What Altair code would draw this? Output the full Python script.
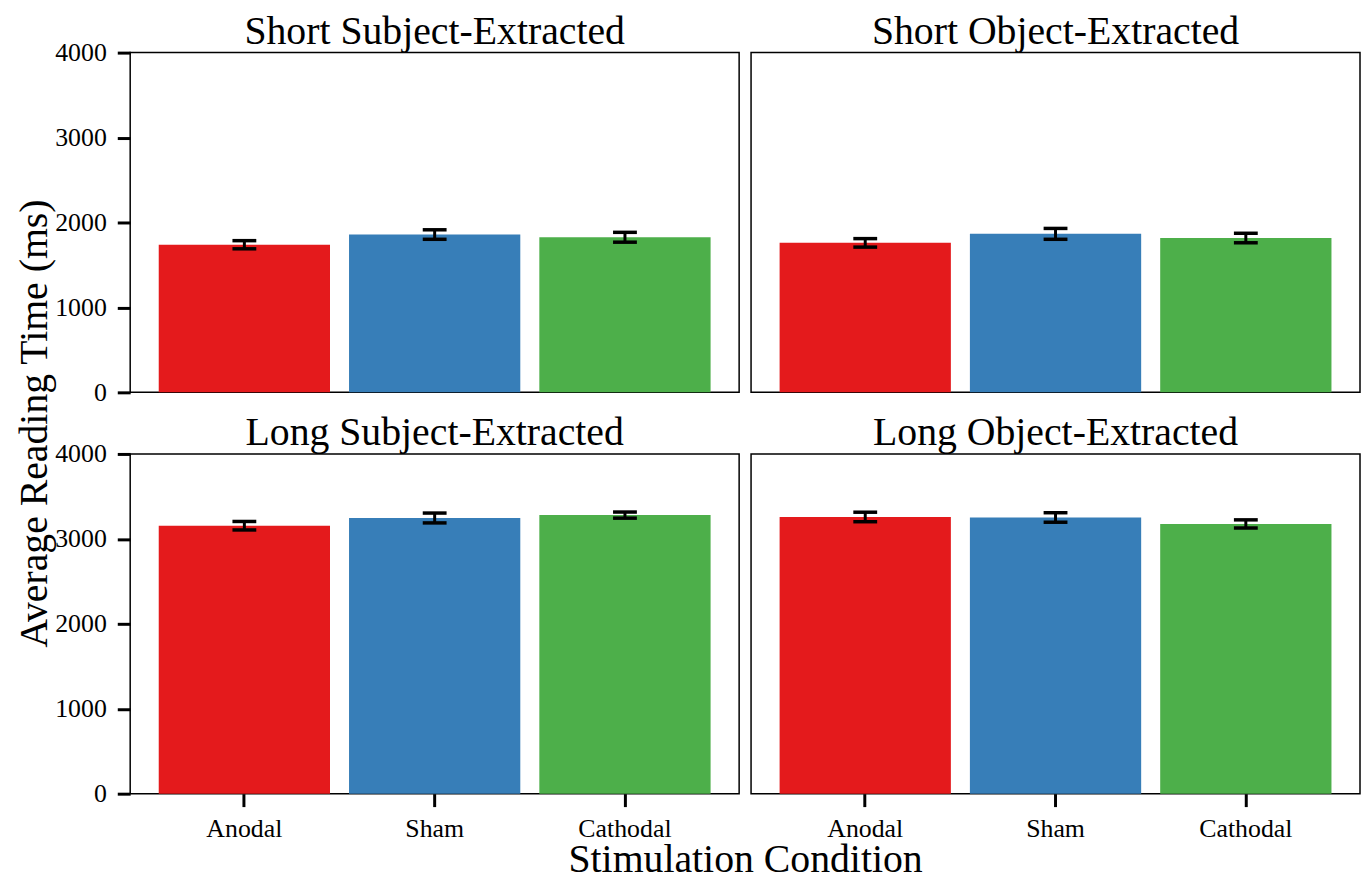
import altair as alt
import pandas as pd

conditions = ["Anodal", "Sham", "Cathodal"]
colors = ["#e41a1c", "#377eb8", "#4daf4a"]
panel_titles = ["Short Subject-Extracted", "Short Object-Extracted",
                "Long Subject-Extracted", "Long Object-Extracted"]
means = [
    [1738, 1858, 1826],
    [1760, 1866, 1817],
    [3155, 3246, 3280],
    [3258, 3252, 3176],
]
errors = [
    [48, 56, 58],
    [50, 64, 56],
    [50, 58, 36],
    [56, 56, 48],
]

FONT = "Liberation Serif"
W, H = 613, 342
VGAP, HGAP = 62, 12


def panel(i, left, bottom):
    df = pd.DataFrame({
        "cond": conditions,
        "mean": means[i],
        "lo": [m - e for m, e in zip(means[i], errors[i])],
        "hi": [m + e for m, e in zip(means[i], errors[i])],
    })
    xscale = alt.Scale(domain=conditions, paddingInner=0.1, paddingOuter=0.15)
    if bottom:
        xaxis = alt.Axis(labelAngle=0, labelFontSize=26, labelFont=FONT, labelColor="black",
                         tickSize=13, tickWidth=3, tickColor="black", domain=False,
                         labelPadding=9, title="Stimulation Condition" if i == 2 else None,
                         titleFont=FONT, titleFontSize=40, titleFontWeight="normal",
                         titleColor="black", titleX=W + HGAP / 2, titleY=78,
                         titleBaseline="alphabetic", titleAnchor="middle", titleAlign="center")
        x = alt.X("cond:N", sort=conditions, axis=xaxis, scale=xscale)
    else:
        x = alt.X("cond:N", sort=conditions, axis=None, scale=xscale)

    axis_kw = dict(values=[0, 1000, 2000, 3000, 4000], format="d", labelFontSize=26,
                   labelFont=FONT, labelColor="black", tickSize=13, tickWidth=3,
                   tickColor="black", domain=False, grid=False, labelPadding=11)
    if i == 0:
        yaxis = alt.Axis(title="Average Reading Time (ms)",
                         titleFont=FONT, titleFontSize=40, titleFontWeight="normal",
                         titleColor="black", titleAngle=-90, titleX=-84, titleY=H + VGAP / 2,
                         titleBaseline="alphabetic", titleAlign="center", **axis_kw)
    elif left:
        yaxis = alt.Axis(title=None, **axis_kw)
    else:
        # invisible labels keep the panel title at the same height as the left column
        yaxis = alt.Axis(title=None, labelOpacity=0, tickOpacity=0, **axis_kw)
    y = alt.Y("mean:Q", axis=yaxis, scale=alt.Scale(domain=[0, 4000], nice=False))

    color = alt.Color("cond:N", scale=alt.Scale(domain=conditions, range=colors), legend=None)
    bars = alt.Chart(df).mark_bar(opacity=1).encode(x=x, y=y, color=color)
    rule = alt.Chart(df).mark_rule(color="black", strokeWidth=3, opacity=1).encode(
        x=alt.X("cond:N", sort=conditions), y="lo:Q", y2="hi:Q")
    cap_lo = alt.Chart(df).mark_tick(color="black", thickness=3.5, size=24, opacity=1).encode(
        x=alt.X("cond:N", sort=conditions), y="lo:Q")
    cap_hi = alt.Chart(df).mark_tick(color="black", thickness=3.5, size=24, opacity=1).encode(
        x=alt.X("cond:N", sort=conditions), y="hi:Q")
    return alt.layer(bars, rule, cap_lo, cap_hi).properties(
        width=W, height=H,
        title=alt.TitleParams(panel_titles[i], font=FONT, fontSize=40, fontWeight="normal",
                              color="black", offset=-12, anchor="middle"))


chart = alt.concat(
    panel(0, True, False), panel(1, False, False),
    panel(2, True, True), panel(3, False, True),
    columns=2, spacing={"row": VGAP, "column": HGAP},
    bounds="flush",
).properties(
    padding={"left": 6, "top": 0, "right": 0, "bottom": 0}, background="white"
).configure_view(stroke="black", strokeWidth=1.5)

chart.save("out.html", embed_options={"renderer": "svg", "actions": False})
